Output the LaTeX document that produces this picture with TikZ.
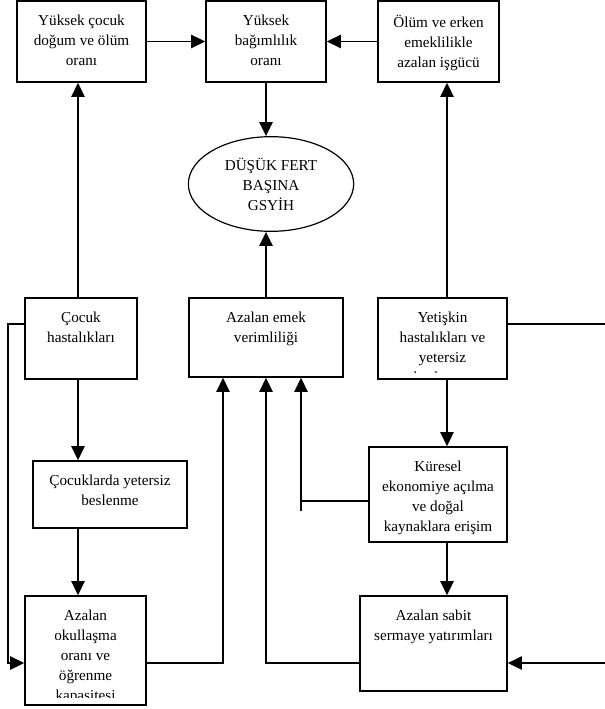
\documentclass[tikz,border=0pt]{standalone}
\usepackage{fontspec}
\setmainfont{Liberation Serif}
\usetikzlibrary{shapes.geometric, positioning, arrows.meta, calc}

\begin{document}
\begin{tikzpicture}[x=0.75pt, y=-0.75pt,
    every node/.style={font=\fontsize{11.4}{15}\selectfont},
    box/.style={draw, line width=1.3pt, inner sep=0pt},
    boxtext/.style={anchor=north, align=center, inner sep=0pt, yshift=-10.9pt,
      execute at begin node={\rule{0pt}{10.5pt}}},
    arr/.style={line width=1.3pt, -{Triangle[length=10.5pt, width=10pt]}},
    link/.style={line width=1.3pt}]
  \useasboundingbox (0,0) rectangle (604,709);

  % Top row
  \node[box, minimum width=96.75pt, minimum height=60.75pt] (dogum) at (81.5,41.5) {};
  \node[boxtext] (dogumt) at (dogum.north) {Yüksek çocuk\\doğum ve ölüm\\oranı};
  \node[box, minimum width=90pt, minimum height=60.75pt] (bagim) at (266,41.5) {};
  \node[boxtext] (bagimt) at (bagim.north) {Yüksek\\bağımlılık\\oranı};
  \node[box, minimum width=90.75pt, minimum height=60.75pt] (isgucu) at (438.5,41.5) {};
  \node[boxtext] (isgucut) at (isgucu.north) {Ölüm ve erken\\emeklilikle\\azalan işgücü};

  % Centre
  \node[draw, ellipse, line width=0.9pt, minimum width=124pt, minimum height=71pt,
    inner sep=0pt, align=center] (gsyih) at (271,184) {DÜŞÜK FERT\\BAŞINA\\GSYİH};

  % Middle row
  \node[box, minimum width=84pt, minimum height=60.75pt] (cocuk) at (81,338.5) {};
  \node[boxtext] (cocukt) at (cocuk.north) {Çocuk\\hastalıkları};
  \node[box, minimum width=115.5pt, minimum height=59.25pt] (emek) at (266,337.5) {};
  \node[boxtext] (emekt) at (emek.north) {Azalan emek\\verimliliği};
  \node[box, minimum width=96.75pt, minimum height=60.75pt] (yetis) at (442.5,338.5) {};
  \begin{scope}
    \clip (yetis.north west) rectangle ([yshift=5.5pt]yetis.south east);
    \node[boxtext] (yetist) at (yetis.north) {Yetişkin\\hastalıkları ve\\yetersiz\\beslenme};
  \end{scope}

  % Lower rows
  \node[box, minimum width=115.5pt, minimum height=50.25pt] (beslen) at (110,494.5) {};
  \node[boxtext] (beslent) at (beslen.north) {Çocuklarda yetersiz\\beslenme};
  \node[box, minimum width=103.5pt, minimum height=71.25pt] (kuresel) at (438,494.5) {};
  \node[boxtext] (kureselt) at (kuresel.north) {Küresel\\ekonomiye açılma\\ve doğal\\kaynaklara erişim};
  \node[box, minimum width=90.75pt, minimum height=81.75pt] (okul) at (85.5,650.5) {};
  \begin{scope}
    \clip (okul.north west) rectangle ([yshift=6.5pt]okul.south east);
    \node[boxtext] (okult) at (okul.north) {Azalan\\okullaşma\\oranı ve\\öğrenme\\kapasitesi};
  \end{scope}
  \node[box, minimum width=110.25pt, minimum height=71.25pt] (sabit) at (433.5,643.5) {};
  \node[boxtext] (sabitt) at (sabit.north) {Azalan sabit\\sermaye yatırımları};

  % Helper coordinates
  \coordinate (lc) at (78,0);
  \coordinate (rc) at (447,0);
  \coordinate (lx) at (8,0);
  \coordinate (rx) at (625,0);
  \coordinate (ly1) at (0,324);
  \coordinate (ly2) at (0,663);
  \coordinate (ky) at (0,501);
  \coordinate (mx) at (223,0);
  \coordinate (kstub) at (301,511);

  % Connectors
  \draw[arr] (dogum.east) -- (bagim.west);
  \draw[arr] (isgucu.west) -- (bagim.east);
  \draw[arr] (bagim.south) -- (bagim.south |- gsyih.north);
  \draw[arr] (emek.north) -- (emek.north |- gsyih.south);
  \draw[arr] (cocuk.north -| lc) -- (dogum.south -| lc);
  \draw[arr] (yetis.north -| rc) -- (isgucu.south -| rc);
  \draw[arr] (cocuk.south -| lc) -- (beslen.north -| lc);
  \draw[arr] (beslen.south -| lc) -- (okul.north -| lc);
  \draw[arr] (yetis.south -| rc) -- (kuresel.north -| rc);
  \draw[arr] (kuresel.south -| rc) -- (sabit.north -| rc);

  % Loops round the sides
  \draw[arr] (cocuk.west |- ly1) -| (lx |- ly2) -- (okul.west |- ly2);
  \draw[arr] (yetis.east |- ly1) -| (rx |- ly2) -- (sabit.east |- ly2);

  % Into labour productivity
  \draw[arr] (okul.east |- ly2) -| (emek.south -| mx);
  \draw[arr] (sabit.west |- ly2) -| (emek.south);
  \draw[arr] (kstub) -- (emek.south -| kstub);
  \draw[link] (kuresel.west |- ky) -- (kstub |- ky);
\end{tikzpicture}
\end{document}
